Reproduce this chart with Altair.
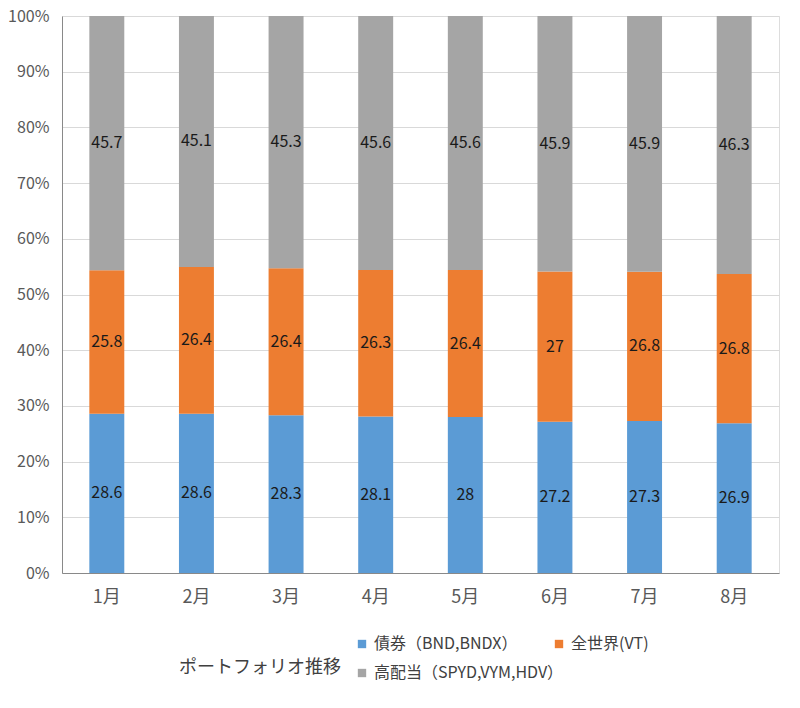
import altair as alt
import pandas as pd

months = ["1月", "2月", "3月", "4月", "5月", "6月", "7月", "8月"]
series = ["債券（BND,BNDX）", "全世界(VT)", "高配当（SPYD,VYM,HDV）"]
bond = [28.6, 28.6, 28.3, 28.1, 28, 27.2, 27.3, 26.9]
world = [25.8, 26.4, 26.4, 26.3, 26.4, 27, 26.8, 26.8]
highdiv = [45.7, 45.1, 45.3, 45.6, 45.6, 45.9, 45.9, 46.3]
colors = ["#5B9BD5", "#ED7D31", "#A5A5A5"]

rows = []
for i, m in enumerate(months):
    for k, (s, vals) in enumerate(zip(series, [bond, world, highdiv])):
        rows.append({"month": m, "series": s, "value": vals[i], "order": k})
df = pd.DataFrame(rows)

FONT = "Noto Sans CJK JP"

base = alt.Chart(df).transform_stack(
    stack="value",
    groupby=["month"],
    as_=["y0", "y1"],
    offset="normalize",
    sort=[alt.SortField("order", order="ascending")],
).transform_calculate(mid="(datum.y0 + datum.y1) / 2")

xenc = alt.X(
    "month:N",
    sort=months,
    title=None,
    scale=alt.Scale(paddingInner=0.61, paddingOuter=0.305),
    axis=alt.Axis(
        labelAngle=0,
        labelFontSize=18,
        labelColor="#595959",
        labelFont=FONT,
        ticks=False,
        labelPadding=15,
        domainColor="#898989",
        domain=True,
    ),
)

bars = base.mark_bar().encode(
    x=xenc,
    y=alt.Y(
        "y0:Q",
        scale=alt.Scale(domain=[0, 1], nice=False),
        title=None,
        axis=alt.Axis(
            format=".0%",
            values=[i / 10 for i in range(11)],
            labelFontSize=16,
            labelColor="#595959",
            labelFont=FONT,
            ticks=False,
            labelPadding=13,
            grid=True,
            gridColor="#D9D9D9",
            domainColor="#898989",
        ),
    ),
    y2="y1:Q",
    color=alt.Color(
        "series:N",
        sort=series,
        scale=alt.Scale(domain=series, range=colors),
        legend=alt.Legend(
            title="ポートフォリオ推移",
            orient="none",
            legendX=117,
            legendY=620,
            direction="horizontal",
            columns=2,
            gridAlign="none",
            titleOrient="left",
            titleAnchor="middle",
            titleBaseline="top",
            titleFontSize=18,
            titleFontWeight="normal",
            titleColor="#404040",
            titleFont=FONT,
            titlePadding=13,
            labelFontSize=16,
            labelColor="#404040",
            labelFont=FONT,
            labelLimit=400,
            symbolType="square",
            symbolSize=70,
            symbolStrokeWidth=0,
            rowPadding=13,
            columnPadding=-13,
        ),
    ),
    order=alt.Order("order:Q"),
)

labels = base.mark_text(fontSize=16, color="#1a1a1a", font=FONT).encode(
    x=alt.X("month:N", sort=months),
    y=alt.Y("mid:Q"),
    text=alt.Text("value:Q"),
)

chart = (
    alt.layer(bars, labels)
    .properties(
        width=717,
        height=557,
        autosize=alt.AutoSizeParams(type="none"),
        padding={"left": 54, "top": 8, "right": 13, "bottom": 127},
    )
    .configure_view(stroke="#898989", strokeWidth=1)
    .configure(background="white")
)

chart.save("out.html", embed_options={"renderer": "svg", "actions": False})
